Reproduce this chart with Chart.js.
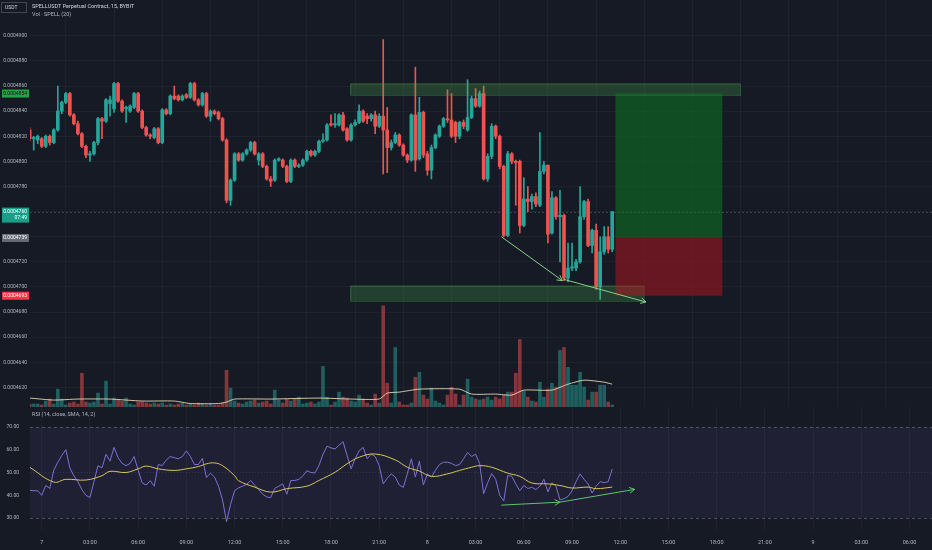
<!DOCTYPE html>
<html lang="en">
<head>
<meta charset="UTF-8">
<title>SPELLUSDT Perpetual Contract, 15, BYBIT</title>
<script src="https://cdn.jsdelivr.net/npm/chart.js"></script>
<style>
  html, body { margin: 0; padding: 0; background: #161a25; }
  body { width: 932px; height: 550px; position: relative; overflow: hidden; }
  #mainWrap { position: absolute; left: 0; top: 0; width: 932px; height: 407px; }
  #rsiWrap { position: absolute; left: 0; top: 407px; width: 932px; height: 143px; }
</style>
</head>
<body>
<div id="mainWrap"><canvas id="mainChart"></canvas></div>
<div id="rsiWrap"><canvas id="rsiChart"></canvas></div>

<script>
// 15 minute candles, time counted in hours from the 7th 00:00
const candleStartHour = -0.75;
const candleStepHour = 0.25;

const opens = [
  0.0004825,0.0004818,0.0004817,0.0004818,0.0004812,0.0004820,0.0004815,0.0004825,0.0004840,0.0004847,
  0.0004854,0.0004837,0.0004830,0.0004822,0.0004812,0.0004805,0.0004806,0.0004815,0.0004834,0.0004832,
  0.0004846,0.0004842,0.0004862,0.0004848,0.0004842,0.0004840,0.0004843,0.0004854,0.0004840,0.0004827,
  0.0004821,0.0004819,0.0004826,0.0004815,0.0004841,0.0004838,0.0004852,0.0004852,0.0004849,0.0004853,
  0.0004851,0.0004862,0.0004849,0.0004845,0.0004854,0.0004836,0.0004840,0.0004839,0.0004834,0.0004817,
  0.0004769,0.0004785,0.0004806,0.0004801,0.0004806,0.0004809,0.0004815,0.0004801,0.0004806,0.0004796,
  0.0004786,0.0004785,0.0004801,0.0004801,0.0004796,0.0004784,0.0004801,0.0004796,0.0004797,0.0004801,
  0.0004808,0.0004805,0.0004808,0.0004816,0.0004817,0.0004830,0.0004829,0.0004829,0.0004837,0.0004826,
  0.0004817,0.0004829,0.0004831,0.0004840,0.0004836,0.0004834,0.0004837,0.0004828,0.0004836,0.0004825,
  0.0004811,0.0004815,0.0004821,0.0004813,0.0004805,0.0004801,0.0004837,0.0004802,0.0004839,0.0004806,
  0.0004793,0.0004811,0.0004820,0.0004828,0.0004834,0.0004833,0.0004831,0.0004820,0.0004831,0.0004825,
  0.0004835,0.0004850,0.0004844,0.0004854,0.0004786,0.0004804,0.0004828,0.0004820,0.0004796,0.0004741,
  0.0004806,0.0004800,0.0004800,0.0004749,0.0004770,0.0004768,0.0004772,0.0004765,0.0004792,0.0004797,
  0.0004743,0.0004771,0.0004756,0.0004757,0.0004707,0.0004715,0.0004715,0.0004720,0.0004756,0.0004768,
  0.0004733,0.0004745,0.0004700,0.0004728,0.0004740,0.0004730
];
const highs = [
  0.0004827,0.0004820,0.0004821,0.0004819,0.0004821,0.0004821,0.0004826,0.0004860,0.0004848,0.0004855,
  0.0004855,0.0004838,0.0004832,0.0004823,0.0004813,0.0004808,0.0004816,0.0004835,0.0004835,0.0004850,
  0.0004852,0.0004863,0.0004863,0.0004849,0.0004844,0.0004845,0.0004855,0.0004855,0.0004841,0.0004828,
  0.0004822,0.0004827,0.0004827,0.0004842,0.0004842,0.0004853,0.0004860,0.0004853,0.0004853,0.0004854,
  0.0004863,0.0004863,0.0004850,0.0004855,0.0004855,0.0004841,0.0004841,0.0004840,0.0004835,0.0004818,
  0.0004786,0.0004807,0.0004807,0.0004807,0.0004810,0.0004816,0.0004816,0.0004807,0.0004807,0.0004797,
  0.0004788,0.0004802,0.0004803,0.0004802,0.0004797,0.0004802,0.0004802,0.0004798,0.0004802,0.0004809,
  0.0004809,0.0004809,0.0004817,0.0004822,0.0004830,0.0004837,0.0004838,0.0004838,0.0004839,0.0004827,
  0.0004830,0.0004833,0.0004845,0.0004841,0.0004838,0.0004838,0.0004840,0.0004838,0.0004897,0.0004843,
  0.0004817,0.0004823,0.0004822,0.0004814,0.0004806,0.0004838,0.0004875,0.0004851,0.0004840,0.0004808,
  0.0004813,0.0004822,0.0004829,0.0004835,0.0004857,0.0004854,0.0004832,0.0004832,0.0004833,0.0004865,
  0.0004852,0.0004858,0.0004856,0.0004860,0.0004806,0.0004830,0.0004829,0.0004821,0.0004797,0.0004808,
  0.0004807,0.0004801,0.0004801,0.0004787,0.0004780,0.0004774,0.0004775,0.0004823,0.0004800,0.0004797,
  0.0004776,0.0004772,0.0004777,0.0004758,0.0004735,0.0004735,0.0004722,0.0004780,0.0004769,0.0004770,
  0.0004746,0.0004750,0.0004740,0.0004748,0.0004748,0.0004760
];
const lows = [
  0.0004816,0.0004809,0.0004814,0.0004811,0.0004811,0.0004813,0.0004814,0.0004824,0.0004838,0.0004846,
  0.0004836,0.0004829,0.0004821,0.0004811,0.0004803,0.0004800,0.0004805,0.0004813,0.0004818,0.0004831,
  0.0004836,0.0004839,0.0004847,0.0004839,0.0004831,0.0004839,0.0004842,0.0004839,0.0004826,0.0004820,
  0.0004818,0.0004818,0.0004814,0.0004814,0.0004837,0.0004837,0.0004849,0.0004848,0.0004848,0.0004850,
  0.0004850,0.0004848,0.0004844,0.0004844,0.0004835,0.0004832,0.0004837,0.0004833,0.0004816,0.0004767,
  0.0004765,0.0004784,0.0004800,0.0004800,0.0004805,0.0004808,0.0004805,0.0004797,0.0004795,0.0004785,
  0.0004780,0.0004784,0.0004800,0.0004795,0.0004783,0.0004783,0.0004795,0.0004795,0.0004796,0.0004800,
  0.0004804,0.0004804,0.0004807,0.0004815,0.0004816,0.0004828,0.0004827,0.0004828,0.0004824,0.0004816,
  0.0004816,0.0004828,0.0004830,0.0004831,0.0004830,0.0004832,0.0004822,0.0004827,0.0004790,0.0004791,
  0.0004809,0.0004814,0.0004812,0.0004804,0.0004799,0.0004800,0.0004792,0.0004801,0.0004803,0.0004789,
  0.0004786,0.0004810,0.0004819,0.0004827,0.0004831,0.0004819,0.0004815,0.0004818,0.0004826,0.0004824,
  0.0004834,0.0004843,0.0004843,0.0004785,0.0004784,0.0004802,0.0004818,0.0004794,0.0004740,0.0004740,
  0.0004798,0.0004765,0.0004743,0.0004748,0.0004760,0.0004762,0.0004764,0.0004764,0.0004790,0.0004735,
  0.0004742,0.0004754,0.0004720,0.0004705,0.0004704,0.0004713,0.0004713,0.0004719,0.0004754,0.0004732,
  0.0004727,0.0004698,0.0004690,0.0004726,0.0004727,0.0004728
];
const closes = [
  0.0004818,0.0004819,0.0004820,0.0004812,0.0004820,0.0004815,0.0004825,0.0004840,0.0004847,0.0004854,
  0.0004837,0.0004830,0.0004822,0.0004812,0.0004805,0.0004806,0.0004815,0.0004834,0.0004832,0.0004849,
  0.0004849,0.0004862,0.0004848,0.0004840,0.0004843,0.0004844,0.0004854,0.0004840,0.0004827,0.0004821,
  0.0004820,0.0004826,0.0004815,0.0004841,0.0004838,0.0004852,0.0004850,0.0004849,0.0004852,0.0004851,
  0.0004862,0.0004849,0.0004845,0.0004854,0.0004836,0.0004840,0.0004838,0.0004834,0.0004817,0.0004769,
  0.0004785,0.0004806,0.0004801,0.0004806,0.0004809,0.0004815,0.0004806,0.0004806,0.0004796,0.0004786,
  0.0004784,0.0004801,0.0004802,0.0004796,0.0004784,0.0004801,0.0004796,0.0004797,0.0004801,0.0004808,
  0.0004805,0.0004808,0.0004816,0.0004817,0.0004829,0.0004829,0.0004830,0.0004837,0.0004825,0.0004817,
  0.0004829,0.0004831,0.0004840,0.0004832,0.0004834,0.0004837,0.0004828,0.0004836,0.0004825,0.0004811,
  0.0004815,0.0004821,0.0004813,0.0004805,0.0004801,0.0004837,0.0004801,0.0004839,0.0004805,0.0004793,
  0.0004811,0.0004821,0.0004828,0.0004834,0.0004833,0.0004820,0.0004820,0.0004831,0.0004828,0.0004835,
  0.0004850,0.0004844,0.0004854,0.0004786,0.0004804,0.0004828,0.0004820,0.0004796,0.0004741,0.0004806,
  0.0004800,0.0004799,0.0004749,0.0004770,0.0004768,0.0004772,0.0004766,0.0004792,0.0004797,0.0004742,
  0.0004771,0.0004756,0.0004757,0.0004707,0.0004715,0.0004716,0.0004720,0.0004756,0.0004768,0.0004733,
  0.0004745,0.0004700,0.0004728,0.0004740,0.0004730,0.0004760
];
// volume, millions of SPELL
const volumes = [
  3,3,3,2,6,8,3,18,8,2,
  4,5,3,34,5,4,5,14,3,26,
  3,9,7,6,9,3,2,5,5,4,
  3,4,3,4,2,3,2,3,4,2,
  3,2,4,3,2,3,2,2,4,37,
  19,6,4,3,5,6,7,4,5,6,
  3,17,7,4,8,6,8,10,3,4,
  5,3,5,41,10,2,5,15,10,9,
  6,5,12,8,4,2,13,4,102,24,
  4,60,5,2,2,4,30,35,12,8,
  19,6,4,2,12,20,13,2,12,28,
  10,8,7,8,10,7,10,8,12,15,
  15,34,68,16,10,6,5,25,10,18,
  24,20,57,60,40,22,22,35,20,7,
  15,15,22,22,5,2
];
// volume SMA(20), read at some candles
const volMaIndex = [0,6,12,20,28,36,40,47,49,51,60,72,80,87,89,92,97,107,110,116,120,123,130,134,138,143,145];
const volMaValues = [9,7,8,8,6,6,3.5,3.5,5,8,8,9,8,8,14,15,18,18,13,13,12,17,17,23,27,25,23];

const rsiValues = [
  42.2,42,42,40,44.3,43,51,54.5,57.5,60,
  52,48.5,46,42.5,40,39,46,53,52,58,
  55,61,56.5,54,53,54,57,51,45.5,44.5,
  46.4,44,53.5,53,55.5,57,56.5,56,57,59.5,
  57,53.5,53.5,56.2,47.8,49.7,48,44,38,28.4,
  36,42,43.3,44,44.8,46.5,44.5,42.5,40.5,39.3,
  39,43,44,45,40.5,46.5,46.5,47,48.5,50.8,
  50,49.8,53,58,61.5,60.8,60.3,62,63.5,57.5,
  51.6,56,59.5,61,56,58,57,53,45,47.5,
  49.4,48,44.5,43.5,49.4,56,48,55,44.5,49.4,
  48,51,53.5,54.5,54.5,54,53,53.5,56,58.8,
  57,58,54,40.7,45.5,49.5,47,40,37.5,48.7,
  48.3,45,42,44.3,43,43.5,42.5,44,47,41.5,
  45.5,44,38,38.5,39.5,42,46,49.4,47,45,
  41,44,46,45.5,46,51.5
];
// RSI-based SMA(14), read at some candles
const rsiMaIndex = [0,6,9,14,18,20,24,27,29,32,36,39,42,44,46,48,51,52,56,60,64,69,72,76,79,82,86,91,94,97,100,104,107,110,112,115,119,122,125,129,132,135,139,141,145];
const rsiMaValues = [52.3,45.8,47,46.7,48.6,50.5,50,51.6,52.8,51.6,50.9,51.6,52.6,53.8,54.2,53,48.6,46.4,43.6,41.4,42.9,44,46.5,50.1,53.8,56.7,58.1,55.5,52.3,50.6,48.3,49.4,50.9,52.3,53,52.3,49.7,48.3,45.4,45,44.3,43.2,43.6,42.9,43.6];

const priceTicks = [0.0004620,0.0004640,0.0004660,0.0004680,0.0004700,0.0004720,0.0004740,0.0004760,
                    0.0004780,0.0004800,0.0004820,0.0004840,0.0004860,0.0004880,0.0004900];
const rsiTicks = [30, 40, 50, 60, 70];
const timeTickHours = [0,3,6,9,12,15,18,21,24,27,30,33,36,39,42,45,48,51,54];
const timeTickLabels = ['7','03:00','06:00','09:00','12:00','15:00','18:00','21:00',
                        '8','03:00','06:00','09:00','12:00','15:00','18:00','21:00',
                        '9','03:00','06:00'];

// drawings on the chart
const lastPrice = 0.0004760;
const countdown = '07:49';
const zoneRects = [
  { from: 19.2, to: 43.45, top: 0.0004862, bottom: 0.0004853 },
  { from: 19.2, to: 37.45, top: 0.0004701, bottom: 0.0004689 }
];
const longPosition = { from: 35.7, to: 42.35, entry: 0.0004739, target: 0.0004854, stop: 0.0004693 };
const priceArrows = [
  [{ h: 28.6, v: 0.0004740 }, { h: 32.4, v: 0.0004705 }],
  [{ h: 32.5, v: 0.0004706 }, { h: 37.6, v: 0.0004688 }]
];
const rsiArrows = [
  [{ h: 28.6, v: 35.7 }, { h: 32.25, v: 37 }],
  [{ h: 32.25, v: 37 }, { h: 36.9, v: 42.6 }]
];

const upColor = '#26a69a';
const downColor = '#ef5350';
const labelColor = '#b2b5be';
const gridColor = 'rgba(255,255,255,0.035)';
const fontFamily = 'Roboto, "Liberation Sans", sans-serif';
const xMin = -0.73, xMax = 55.4;

Chart.defaults.font.family = fontFamily;

const times = opens.map((_, i) => candleStartHour + i * candleStepHour);
const candleColors = opens.map((o, i) => closes[i] >= o ? upColor : downColor);
const volColors = opens.map((o, i) => closes[i] >= o ? 'rgba(38,166,154,0.5)' : 'rgba(239,83,80,0.5)');

const noPad = s => { s.paddingTop = 0; s.paddingBottom = 0; s.paddingLeft = 0; s.paddingRight = 0; };

function drawArrow(ctx, x1, y1, x2, y2, color) {
  ctx.strokeStyle = color;
  ctx.lineWidth = 1;
  ctx.setLineDash([]);
  ctx.beginPath();
  ctx.moveTo(x1, y1);
  ctx.lineTo(x2, y2);
  ctx.stroke();
  const a = Math.atan2(y2 - y1, x2 - x1), len = 6;
  ctx.beginPath();
  ctx.moveTo(x2 - len * Math.cos(a - 0.5), y2 - len * Math.sin(a - 0.5));
  ctx.lineTo(x2, y2);
  ctx.lineTo(x2 - len * Math.cos(a + 0.5), y2 - len * Math.sin(a + 0.5));
  ctx.stroke();
}

function priceBox(ctx, yc, lines, bg, fg) {
  const h = 7 * lines.length + 1;
  ctx.fillStyle = bg;
  ctx.fillRect(2, yc - 4, 27, h);
  ctx.fillStyle = fg;
  ctx.font = '5px ' + fontFamily;
  ctx.textAlign = 'right';
  ctx.textBaseline = 'middle';
  lines.forEach((t, k) => ctx.fillText(t, 27, yc + k * 6.5));
}

const mainOverlay = {
  id: 'mainOverlay',
  afterDatasetsDraw(chart) {
    const { ctx, chartArea, scales: { x, y } } = chart;
    ctx.save();
    // last price line
    const yl = y.getPixelForValue(lastPrice);
    ctx.strokeStyle = 'rgba(120,123,134,0.4)';
    ctx.lineWidth = 1;
    ctx.setLineDash([2, 2]);
    ctx.beginPath();
    ctx.moveTo(chartArea.left, Math.round(yl) + 0.5);
    ctx.lineTo(chartArea.right, Math.round(yl) + 0.5);
    ctx.stroke();
    ctx.setLineDash([]);

    zoneRects.forEach(r => {
      const x1 = x.getPixelForValue(r.from), x2 = x.getPixelForValue(r.to);
      const y1 = y.getPixelForValue(r.top), y2 = y.getPixelForValue(r.bottom);
      ctx.fillStyle = 'rgba(76,175,80,0.25)';
      ctx.fillRect(x1, y1, x2 - x1, y2 - y1);
      ctx.strokeStyle = 'rgba(76,175,80,0.4)';
      ctx.strokeRect(x1 + 0.5, y1 + 0.5, x2 - x1, y2 - y1);
    });

    const lx1 = x.getPixelForValue(longPosition.from), lx2 = x.getPixelForValue(longPosition.to);
    const yt = y.getPixelForValue(longPosition.target);
    const ye = y.getPixelForValue(longPosition.entry);
    const ys = y.getPixelForValue(longPosition.stop);
    ctx.fillStyle = 'rgba(10,140,30,0.45)';
    ctx.fillRect(lx1, yt, lx2 - lx1, ye - yt);
    ctx.fillStyle = 'rgba(200,20,30,0.45)';
    ctx.fillRect(lx1, ye, lx2 - lx1, ys - ye);

    priceArrows.forEach(([a, b]) => {
      drawArrow(ctx, x.getPixelForValue(a.h), y.getPixelForValue(a.v),
                x.getPixelForValue(b.h), y.getPixelForValue(b.v), '#86cf8a');
    });
    ctx.restore();
  },
  afterDraw(chart) {
    const { ctx, scales: { y } } = chart;
    ctx.save();
    // legend texts
    ctx.textAlign = 'left';
    ctx.textBaseline = 'middle';
    ctx.font = '5.5px ' + fontFamily;
    ctx.fillStyle = '#d1d4dc';
    ctx.fillText('SPELLUSDT Perpetual Contract, 15, BYBIT', 32, 7);
    ctx.fillStyle = labelColor;
    ctx.fillText('Vol · SPELL (20)', 32, 15);

    // currency box
    ctx.strokeStyle = '#434651';
    ctx.lineWidth = 1;
    ctx.strokeRect(1.5, 2.5, 25, 10);
    ctx.font = '5px ' + fontFamily;
    ctx.fillStyle = '#d1d4dc';
    ctx.fillText('USDT', 5, 7.5);

    priceBox(ctx, y.getPixelForValue(longPosition.target), [longPosition.target.toFixed(7)], '#25a244', '#10131a');
    priceBox(ctx, y.getPixelForValue(lastPrice), [lastPrice.toFixed(7), countdown], '#1a9e8a', '#ffffff');
    priceBox(ctx, y.getPixelForValue(longPosition.entry), [longPosition.entry.toFixed(7)], '#666a75', '#ffffff');
    priceBox(ctx, y.getPixelForValue(longPosition.stop), [longPosition.stop.toFixed(7)], '#f23645', '#ffffff');
    ctx.restore();
  }
};

const rsiOverlay = {
  id: 'rsiOverlay',
  beforeDatasetsDraw(chart) {
    const { ctx, chartArea, scales: { y } } = chart;
    ctx.save();
    const y70 = y.getPixelForValue(70), y30 = y.getPixelForValue(30), y50 = y.getPixelForValue(50);
    ctx.fillStyle = 'rgba(126,87,194,0.1)';
    ctx.fillRect(chartArea.left, y70, chartArea.right - chartArea.left, y30 - y70);
    ctx.lineWidth = 1;
    ctx.strokeStyle = 'rgba(120,123,134,0.55)';
    ctx.setLineDash([3, 3]);
    [y70, y30].forEach(v => {
      ctx.beginPath();
      ctx.moveTo(chartArea.left, Math.round(v) + 0.5);
      ctx.lineTo(chartArea.right, Math.round(v) + 0.5);
      ctx.stroke();
    });
    ctx.strokeStyle = 'rgba(120,123,134,0.25)';
    ctx.setLineDash([1, 2]);
    ctx.beginPath();
    ctx.moveTo(chartArea.left, Math.round(y50) + 0.5);
    ctx.lineTo(chartArea.right, Math.round(y50) + 0.5);
    ctx.stroke();
    ctx.restore();
  },
  afterDatasetsDraw(chart) {
    const { ctx, scales: { x, y } } = chart;
    ctx.save();
    rsiArrows.forEach(([a, b]) => {
      drawArrow(ctx, x.getPixelForValue(a.h), y.getPixelForValue(a.v),
                x.getPixelForValue(b.h), y.getPixelForValue(b.v), '#5cc668');
    });
    ctx.font = '5.5px ' + fontFamily;
    ctx.fillStyle = labelColor;
    ctx.textAlign = 'left';
    ctx.textBaseline = 'middle';
    ctx.fillText('RSI (14, close, SMA, 14, 2)', 32, 8);
    ctx.restore();
  }
};

new Chart(document.getElementById('mainChart'), {
  type: 'bar',
  data: {
    datasets: [
      {
        label: 'Bodies',
        data: times.map((t, i) => ({ x: t, y: [opens[i], closes[i]] })),
        backgroundColor: candleColors,
        barThickness: 3,
        minBarLength: 1,
        grouped: false,
        yAxisID: 'y',
        order: 0
      },
      {
        label: 'Wicks',
        data: times.map((t, i) => ({ x: t, y: [lows[i], highs[i]] })),
        backgroundColor: candleColors,
        barThickness: 1,
        grouped: false,
        yAxisID: 'y',
        order: 1
      },
      {
        type: 'line',
        label: 'Vol MA',
        data: volMaIndex.map((idx, k) => ({ x: times[idx], y: volMaValues[k] })),
        borderColor: 'rgba(238,228,186,0.85)',
        borderWidth: 1,
        pointRadius: 0,
        tension: 0.2,
        yAxisID: 'yv',
        order: 2
      },
      {
        label: 'Volume',
        data: times.map((t, i) => ({ x: t, y: volumes[i] })),
        backgroundColor: volColors,
        barThickness: 3,
        grouped: false,
        yAxisID: 'yv',
        order: 3
      }
    ]
  },
  options: {
    responsive: true,
    maintainAspectRatio: false,
    animation: false,
    layout: { padding: 0 },
    plugins: { legend: { display: false }, tooltip: { enabled: false } },
    scales: {
      x: {
        type: 'linear', min: xMin, max: xMax, offset: false,
        afterBuildTicks: s => { s.ticks = timeTickHours.map(v => ({ value: v })); },
        ticks: { display: false },
        grid: { color: gridColor, drawTicks: false },
        border: { display: false },
        afterFit: s => { s.height = 0; noPad(s); }
      },
      y: {
        position: 'left',
        min: 0.00046044, max: 0.00049285,
        afterBuildTicks: s => { s.ticks = priceTicks.map(v => ({ value: v })); },
        ticks: { color: labelColor, font: { size: 5 }, padding: 3, autoSkip: false, callback: v => v.toFixed(7) },
        grid: { color: gridColor, drawTicks: false },
        border: { display: false },
        afterFit: s => { s.width = 30; noPad(s); }
      },
      yv: {
        display: false,
        min: 0, max: 410
      }
    }
  },
  plugins: [mainOverlay]
});

new Chart(document.getElementById('rsiChart'), {
  type: 'line',
  data: {
    datasets: [
      {
        label: 'RSI-based MA',
        data: rsiMaIndex.map((idx, k) => ({ x: times[idx], y: rsiMaValues[k] })),
        borderColor: '#d6c65a',
        borderWidth: 1,
        pointRadius: 0,
        tension: 0.4
      },
      {
        label: 'RSI',
        data: times.map((t, i) => ({ x: t, y: rsiValues[i] })),
        borderColor: '#7f6fd4',
        borderWidth: 1,
        pointRadius: 0,
        tension: 0
      }
    ]
  },
  options: {
    responsive: true,
    maintainAspectRatio: false,
    animation: false,
    layout: { padding: 0 },
    plugins: { legend: { display: false }, tooltip: { enabled: false } },
    scales: {
      x: {
        type: 'linear', min: xMin, max: xMax, offset: false,
        afterBuildTicks: s => { s.ticks = timeTickHours.map(v => ({ value: v })); },
        ticks: {
          color: labelColor, font: { size: 5.5 }, padding: 9, maxRotation: 0, autoSkip: false,
          callback: v => timeTickLabels[timeTickHours.indexOf(v)]
        },
        grid: { color: gridColor, drawTicks: false },
        border: { display: false },
        afterFit: s => { s.height = 20; noPad(s); }
      },
      y: {
        position: 'left',
        min: 24.8, max: 78.7,
        afterBuildTicks: s => { s.ticks = rsiTicks.map(v => ({ value: v })); },
        ticks: { color: labelColor, font: { size: 5 }, padding: 3, autoSkip: false, callback: v => v.toFixed(2) },
        grid: { display: false },
        border: { display: false },
        afterFit: s => { s.width = 30; noPad(s); }
      }
    }
  },
  plugins: [rsiOverlay]
});
</script>
</body>
</html>
